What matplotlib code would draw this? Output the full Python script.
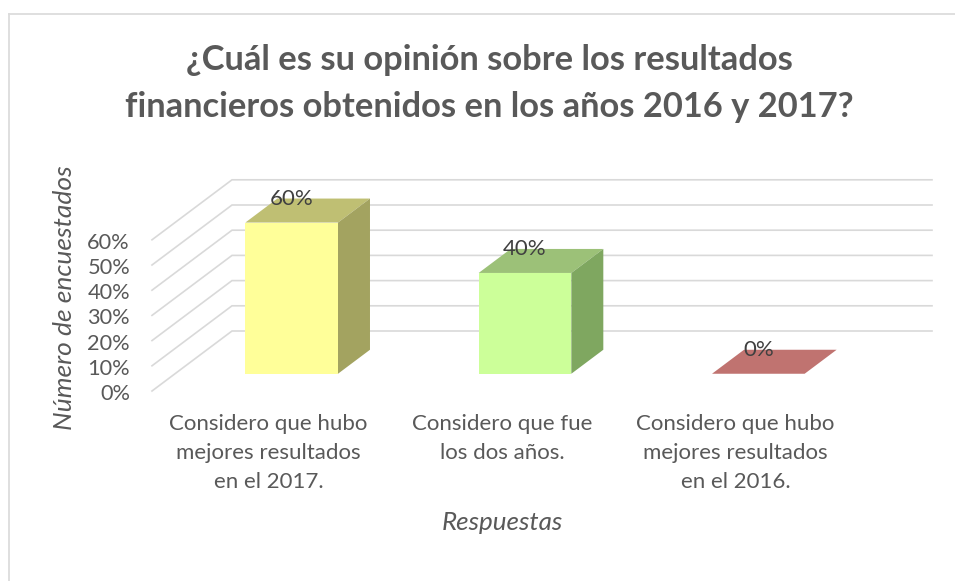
import matplotlib
matplotlib.use("Agg")
import matplotlib.pyplot as plt

plt.rcParams['font.family'] = ['Lato', 'DejaVu Sans']

# ---- data ----
title = "¿Cuál es su opinión sobre los resultados\nfinancieros obtenidos en los años 2016 y 2017?"
categories = ["Considero que hubo\nmejores resultados\nen el 2017.",
              "Considero que fue\nlos dos años.",
              "Considero que hubo\nmejores resultados\nen el 2016."]
values = [0.60, 0.40, 0.0]
value_labels = ["60%", "40%", "0%"]
y_ticks = [0.0, 0.1, 0.2, 0.3, 0.4, 0.5, 0.6]
y_tick_labels = ["0%", "10%", "20%", "30%", "40%", "50%", "60%"]
x_title = "Respuestas"
y_title = "Número de encuestados"
front_colors = ["#FFFF99", "#CCFF99", "#FF9999"]
side_colors = ["#A3A360", "#7FA760", "#A06060"]
top_colors = ["#BFBF73", "#9CC178", "#C07370"]

# ---- layout ----
W, H = 955, 581
PX_X = 700 / 3     # pixels per category
PX_Y = 252.0       # pixels per 100%
X0, Y0 = 152, 391  # pixel of the front-left floor corner
DEPTH_X = 80 / PX_X
DEPTH_Y = 60 / PX_Y
BAR_W = 0.397
D_FRONT, D_BACK = 23 / 80, 55 / 80


def proj(x, y, d=0.0):
    return x + d * DEPTH_X, y + d * DEPTH_Y


fig = plt.figure(figsize=(W / 100, H / 100), dpi=100, facecolor="white")
ax = fig.add_axes([0, 0, 1, 1])
ax.set_xlim(-X0 / PX_X, (W - X0) / PX_X)
ax.set_ylim((Y0 - H) / PX_Y, Y0 / PX_Y)
ax.axis("off")

GRID = "#D9D9D9"
TXT = "#595959"
n = len(categories)

# frame (left and top sides only are inside the crop)
ax.plot([(9 - X0) / PX_X, (9 - X0) / PX_X], [(Y0 - H) / PX_Y, (Y0 - 14) / PX_Y], color="#DCDCDC", lw=1.3, zorder=1)
ax.plot([(9 - X0) / PX_X, (W - X0) / PX_X], [(Y0 - 14) / PX_Y] * 2, color="#DCDCDC", lw=1.3, zorder=1)

# gridlines: floor-to-back diagonal and back wall
for t in y_ticks:
    p0 = proj(0, t, 0)
    p1 = proj(0, t, 1)
    p2 = proj(n, t, 1)
    ax.plot([p0[0], p1[0], p2[0]], [p0[1], p1[1], p2[1]], color=GRID, lw=1.2,
            solid_joinstyle="miter", zorder=1)

# bars
for i, v in enumerate(values):
    l, r = i + 0.5 - BAR_W / 2, i + 0.5 + BAR_W / 2
    top = [proj(l, v, D_FRONT), proj(r, v, D_FRONT), proj(r, v, D_BACK), proj(l, v, D_BACK)]
    ax.fill(*zip(*top), color=top_colors[i], lw=0, zorder=3)
    if v > 0:
        front = [proj(l, 0, D_FRONT), proj(r, 0, D_FRONT), proj(r, v, D_FRONT), proj(l, v, D_FRONT)]
        side = [proj(r, 0, D_FRONT), proj(r, 0, D_BACK), proj(r, v, D_BACK), proj(r, v, D_FRONT)]
        ax.fill(*zip(*side), color=side_colors[i], lw=0, zorder=3)
        ax.fill(*zip(*front), color=front_colors[i], lw=0, zorder=4)
    # data label sits over the back edge of the top face
    lx, ly = proj(i + 0.5, v, D_FRONT)
    ax.text(lx, ly + 24 / PX_Y, value_labels[i], ha="center", va="center",
            fontsize=16, color="#404040", zorder=5)

# y tick labels
for t, s in zip(y_ticks, y_tick_labels):
    ax.text(-22 / PX_X, t - 3 / PX_Y, s, ha="right", va="center", fontsize=15.7, color=TXT)

# category labels
for i, c in enumerate(categories):
    ax.text(i + 0.5, -23 / PX_Y, c, ha="center", va="top", fontsize=16, color=TXT,
            linespacing=1.56)

# axis titles
ax.text(1.5, (Y0 - 522) / PX_Y, x_title, ha="center", va="center", fontsize=18.7,
        style="italic", color=TXT)
ax.text((65 - X0) / PX_X, (Y0 - 298) / PX_Y, y_title, ha="center", va="center",
        rotation=90, fontsize=19, style="italic", color=TXT)

# chart title
ax.text((489 - X0) / PX_X, (Y0 - 83.5) / PX_Y, title, ha="center", va="center",
        fontsize=24.8, fontweight="bold", color=TXT, linespacing=1.58)

fig.savefig("out.png", dpi=100)
